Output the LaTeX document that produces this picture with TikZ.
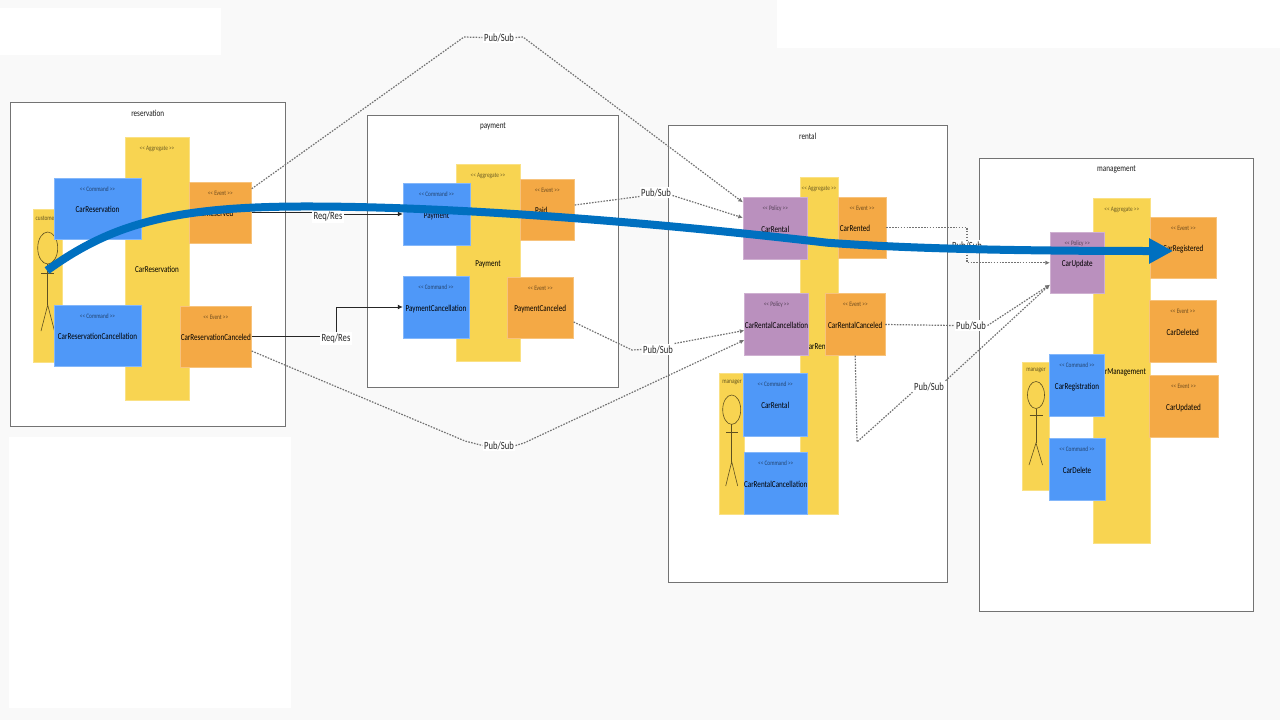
\documentclass[tikz,border=0pt]{standalone}
\usepackage{fontspec}
\setmainfont{Carlito}[FakeStretch=0.78]
\usetikzlibrary{arrows.meta}
\definecolor{pagegray}{HTML}{F9F9F9}
\definecolor{aggyellow}{HTML}{F8D451}
\definecolor{cmdblue}{HTML}{4F98F8}
\definecolor{evtorange}{HTML}{F4A945}
\definecolor{polpurple}{HTML}{BA90BE}
\definecolor{flowblue}{HTML}{0070C0}
\definecolor{actorline}{HTML}{5F5020}
\begin{document}
\begin{tikzpicture}[x=1pt, y=-1pt,
  ctxbox/.style={draw=black!55, line width=1pt, fill=white, inner sep=0pt},
  ctxtitle/.style={anchor=center, yshift=-12pt, font=\fontsize{9.2}{11}\selectfont, text=black!90},
  card/.style={inner sep=0pt, text height=8pt, text depth=0pt, font=\fontsize{9.1}{11}\selectfont, text=black},
  aggbox/.style={card, fill=aggyellow, draw=aggyellow!70!white, line width=0.4pt},
  cmdbox/.style={card, fill=cmdblue, draw=cmdblue!70!white, line width=0.4pt},
  evtbox/.style={card, fill=evtorange, draw=evtorange!70!white, line width=0.4pt},
  polbox/.style={card, fill=polpurple, draw=polpurple!70!white, line width=0.4pt},
  stickybox/.style={fill=aggyellow, draw=aggyellow!70!white, line width=0.4pt, inner sep=0pt},
  stereo/.style={anchor=center, yshift=-11.5pt, text height=5pt, text depth=1pt, font=\fontsize{6.8}{8}\selectfont, text=black, text opacity=0.55},
  offname/.style={anchor=center, text height=8pt, text depth=0pt, font=\fontsize{9.1}{11}\selectfont, text=black},
  actorname/.style={font=\fontsize{6.9}{8}\selectfont, text=black, text opacity=0.6, inner sep=0pt},
  actorfig/.style={draw=actorline, line width=0.6pt},
  linklabel/.style={fill=white, inner sep=1.5pt, font=\fontsize{11}{13}\selectfont, text=black!85},
  pubsub/.style={draw=black!55, line width=1.2pt, dash pattern=on 1.6pt off 1.3pt},
  pubsubarrow/.style={pubsub, -{Latex[length=4.5pt,width=4.5pt]}},
  reqres/.style={draw=black!85, line width=1pt},
  reqresarrow/.style={reqres, -{Latex[length=5pt,width=5pt]}},
  flowarrow/.style={draw=flowblue, line width=8pt, -{Triangle[length=24pt,width=24pt]}}
]
\useasboundingbox (0,0) rectangle (1280,720);
\fill[pagegray] (0,0) rectangle (1280,720);
\fill[white] (0,8) rectangle (221,55);
\fill[white] (777,0) rectangle (1280,48);
\fill[white] (9,437) rectangle (291,708);

\node[ctxbox, minimum width=274.5pt, minimum height=324pt, label={[ctxtitle]north:reservation}] (ctxReservation) at (147.75,264) {};
\node[ctxbox, minimum width=251pt, minimum height=272pt, label={[ctxtitle]north:payment}] (ctxPayment) at (493,251) {};
\node[ctxbox, minimum width=279.5pt, minimum height=457pt, label={[ctxtitle]north:rental}] (ctxRental) at (807.75,353.5) {};
\node[ctxbox, minimum width=274pt, minimum height=453pt, label={[ctxtitle]north:management}] (ctxManagement) at (1116.5,384.5) {};

\node[aggbox, minimum width=64pt, minimum height=263pt, label={[stereo]north:<{}< Aggregate >{}>}] (aggReservation) at (157,268.5) {CarReservation};
\node[aggbox, minimum width=64pt, minimum height=196.5pt, label={[stereo]north:<{}< Aggregate >{}>}] (aggPayment) at (488,262.75) {Payment};
\node[aggbox, minimum width=38pt, minimum height=337pt, label={[stereo]north:<{}< Aggregate >{}>}] (aggRental) at (819,345.5) {CarRental};
\node[aggbox, minimum width=57.5pt, minimum height=345pt, label={[stereo]north:<{}< Aggregate >{}>}] (aggManagement) at (1121.75,370.5) {CarManagement};

\node[stickybox, minimum width=29pt, minimum height=153pt] (stickyCustomer) at (47.5,285.5) {};
\node[actorname] (nameCustomer) at (46,218) {customer};
\draw[actorfig] (47.7,248) ellipse [x radius=10, y radius=16];
\draw[actorfig] (41,273) -- (54,273);
\draw[actorfig] (47.7,264) -- (47.7,305);
\draw[actorfig] (41,331) -- (47.7,305) -- (54.5,331);

\node[stickybox, minimum width=25.5pt, minimum height=140.5pt] (stickyRental) at (731.75,443.75) {};
\node[actorname] (nameRental) at (732,382) {manager};
\draw[actorfig] (731.7,409.7) ellipse [x radius=9, y radius=14.7];
\draw[actorfig] (726,432.7) -- (737.7,432.7);
\draw[actorfig] (731.7,424.4) -- (731.7,461.7);
\draw[actorfig] (725.7,486) -- (731.7,461.7) -- (737.7,486);

\node[stickybox, minimum width=27.5pt, minimum height=128.5pt] (stickyManagement) at (1035.75,426.25) {};
\node[actorname] (nameManagement) at (1036,370.5) {manager};
\draw[actorfig] (1036,395) ellipse [x radius=8.5, y radius=13.5];
\draw[actorfig] (1029.5,415.7) -- (1042.5,415.7);
\draw[actorfig] (1036,408.5) -- (1036,443);
\draw[actorfig] (1029,465) -- (1036,443) -- (1042.5,465);

\node[cmdbox, minimum width=87pt, minimum height=61pt, label={[stereo]north:<{}< Command >{}>}] (cmdReservation) at (97.5,208.5) {CarReservation};
\node[cmdbox, minimum width=87pt, minimum height=61pt, label={[stereo]north:<{}< Command >{}>}] (cmdResCancel) at (97.5,335.5) {CarReservationCancellation};
\node[evtbox, minimum width=62.5pt, minimum height=61.5pt, label={[stereo]north:<{}< Event >{}>}, label={[offname, xshift=-5pt]center:CarReserved}] (evtReserved) at (220.25,212.75) {};
\node[evtbox, minimum width=71.5pt, minimum height=61.5pt, label={[stereo]north:<{}< Event >{}>}] (evtResCancel) at (215.75,336.75) {CarReservationCanceled};

\node[cmdbox, minimum width=67pt, minimum height=62pt, label={[stereo]north:<{}< Command >{}>}] (cmdPayment) at (436.5,214) {Payment};
\node[cmdbox, minimum width=66pt, minimum height=62pt, label={[stereo]north:<{}< Command >{}>}] (cmdPayCancel) at (436,307) {PaymentCancellation};
\node[evtbox, minimum width=54.5pt, minimum height=61pt, label={[stereo]north:<{}< Event >{}>}, label={[offname, xshift=-6pt]center:Paid}] (evtPaid) at (547.25,209.5) {};
\node[evtbox, minimum width=66.5pt, minimum height=61pt, label={[stereo]north:<{}< Event >{}>}] (evtPayCancel) at (540.25,307.5) {PaymentCanceled};

\node[polbox, minimum width=64.5pt, minimum height=61.5pt, label={[stereo]north:<{}< Policy >{}>}] (polRental) at (775.25,228.25) {CarRental};
\node[evtbox, minimum width=48pt, minimum height=61pt, label={[stereo]north:<{}< Event >{}>}, label={[offname, xshift=-7pt]center:CarRented}] (evtRented) at (862,227.5) {};
\node[polbox, minimum width=64pt, minimum height=62pt, label={[stereo]north:<{}< Policy >{}>}] (polRentalCancel) at (776.5,324.5) {CarRentalCancellation};
\node[evtbox, minimum width=59.5pt, minimum height=62pt, label={[stereo]north:<{}< Event >{}>}] (evtRentalCancel) at (855.25,324.5) {CarRentalCanceled};
\node[cmdbox, minimum width=64.5pt, minimum height=62.5pt, label={[stereo]north:<{}< Command >{}>}] (cmdRental) at (775.25,404.75) {CarRental};
\node[cmdbox, minimum width=63.5pt, minimum height=62pt, label={[stereo]north:<{}< Command >{}>}] (cmdRentalCancel) at (775.75,483) {CarRentalCancellation};

\node[polbox, minimum width=54.5pt, minimum height=61.5pt, label={[stereo]north:<{}< Policy >{}>}] (polUpdate) at (1077.25,262.75) {CarUpdate};
\node[cmdbox, minimum width=55pt, minimum height=61.5pt, label={[stereo]north:<{}< Command >{}>}] (cmdRegistration) at (1077,385.25) {CarRegistration};
\node[cmdbox, minimum width=56pt, minimum height=61.5pt, label={[stereo]north:<{}< Command >{}>}] (cmdDelete) at (1077,469.25) {CarDelete};
\node[evtbox, minimum width=65.5pt, minimum height=61pt, label={[stereo]north:<{}< Event >{}>}] (evtRegistered) at (1183.25,247.5) {CarRegistered};
\node[evtbox, minimum width=66.5pt, minimum height=61.5pt, label={[stereo]north:<{}< Event >{}>}] (evtDeleted) at (1182.75,331.25) {CarDeleted};
\node[evtbox, minimum width=69pt, minimum height=61.5pt, label={[stereo]north:<{}< Event >{}>}] (evtUpdated) at (1183.5,406.25) {CarUpdated};

\node[linklabel] (psTop) at (499,37.5) {Pub/Sub};
\node[linklabel] (psBottom) at (499,445.5) {Pub/Sub};
\node[linklabel] (psPaid) at (656,192.5) {Pub/Sub};
\node[linklabel] (psPayCancel) at (658,349.5) {Pub/Sub};
\node[linklabel] (psRented) at (967,246) {Pub/Sub};
\node[linklabel] (psRentalCancel) at (971,325.5) {Pub/Sub};
\node[linklabel] (psDown) at (929,386.5) {Pub/Sub};
\node[linklabel] (rrTop) at (328,216.5) {Req/Res};
\node[linklabel] (rrBottom) at (336,338.5) {Req/Res};

\draw[pubsub] ([yshift=24pt]evtReserved.east) -- (464,37) -- (psTop.west);
\draw[pubsubarrow] (psTop.east) -- (523,37) -- ([yshift=26pt]polRental.west);
\draw[pubsub] ([yshift=4.5pt]evtPaid.east) -- ([yshift=-4pt]psPaid.west);
\draw[pubsubarrow] ([yshift=-3pt]psPaid.east) -- ([yshift=10.5pt]polRental.west);
\draw[pubsub] ([yshift=-14.5pt]evtPayCancel.east) -- (632,350) -- (psPayCancel.west);
\draw[pubsubarrow] ([yshift=6pt]psPayCancel.east) -- ([yshift=-6pt]polRentalCancel.west);
\draw[pubsub] ([yshift=-14.25pt]evtResCancel.east) -- (465,441) -- (psBottom.west);
\draw[pubsubarrow] (psBottom.east) -- (524,443) -- ([yshift=-15.5pt]polRentalCancel.west);
\draw[pubsub] (evtRented.east) -| (psRented.north);
\draw[pubsubarrow] (psRented.south) |- (polUpdate.west);
\draw[pubsub] (evtRentalCancel.east) -- (psRentalCancel.west);
\draw[pubsubarrow] (psRentalCancel.east) -- ([yshift=-22pt]polUpdate.west);
\draw[pubsub] (evtRentalCancel.south) -- (857,442) -- (psDown.south west);
\draw[pubsubarrow] (psDown.north east) -- ([yshift=-22pt]polUpdate.west);

\draw[reqres] (evtReserved.east) -- (rrTop.west |- evtReserved.east);
\draw[reqresarrow] (rrTop.east |- cmdPayment.west) -- (cmdPayment.west);
\draw[reqres] (evtResCancel.east) -- (rrBottom.west |- evtResCancel.east);
\draw[reqresarrow] (rrBottom.north) |- (cmdPayCancel.west);

\coordinate (flowStart) at (47,270.5);
\coordinate (flowEnd) at (1173,251);
\draw[flowarrow] (flowStart) .. controls (110,225) and (170,207) .. (300,206.5) .. controls (450,206) and (650,222) .. (827,242.7) .. controls (900,248) and (1000,251) .. (flowEnd);
\end{tikzpicture}
\end{document}
